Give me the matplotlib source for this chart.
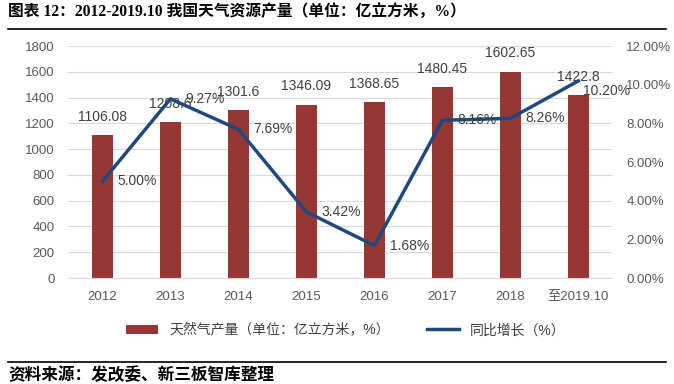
import matplotlib.pyplot as plt
import numpy as np

plt.rcParams['font.family'] = ['Liberation Sans', 'Noto Sans CJK SC']

years = ['2012', '2013', '2014', '2015', '2016', '2017', '2018', '至2019.10']
output = [1106.08, 1208.6, 1301.6, 1346.09, 1368.65, 1480.45, 1602.65, 1422.8]
output_labels = ['1106.08', '1208.6', '1301.6', '1346.09', '1368.65', '1480.45', '1602.65', '1422.8']
growth = [5.00, 9.27, 7.69, 3.42, 1.68, 8.16, 8.26, 10.20]

bar_color = '#953735'
line_color = '#1F497D'
tick_color = '#595959'
label_color = '#404040'

fig = plt.figure(figsize=(6.74, 3.84), dpi=100)
ax = fig.add_axes([0.1016, 0.276, 0.807, 0.604])
x = np.arange(len(years))
bars = ax.bar(x, output, width=0.31, color=bar_color, zorder=2)
ax.set_ylim(0, 1800)
ax.set_yticks(np.arange(0, 1801, 200))
ax.set_xlim(-0.5, len(years) - 0.5)
ax.set_xticks(x)
ax.set_xticklabels(years)
ax.grid(axis='y', color='#D9D9D9', linewidth=0.8, zorder=0)
for s in ['top', 'right', 'left']:
    ax.spines[s].set_visible(False)
ax.spines['bottom'].set_color('#D9D9D9')
ax.tick_params(axis='y', length=0, colors=tick_color, labelsize=9.5, pad=10)
ax.tick_params(axis='x', length=0, colors=tick_color, labelsize=9.5, pad=9)
for xi, v, lab in zip(x, output, output_labels):
    ax.annotate(lab, (xi, v), xytext=(0, 8), textcoords='offset points',
                ha='center', va='bottom', fontsize=10, color=label_color)

ax2 = ax.twinx()
ln, = ax2.plot(x, growth, color=line_color, linewidth=2.5, zorder=3)
ax2.set_ylim(0, 12)
ax2.set_yticks(np.arange(0, 12.1, 2))
ax2.set_yticklabels(['%.2f%%' % t for t in np.arange(0, 12.1, 2)])
for s in ['top', 'right', 'left', 'bottom']:
    ax2.spines[s].set_visible(False)
ax2.tick_params(length=0, colors=tick_color, labelsize=9.5, pad=10)
for i, (xi, g) in enumerate(zip(x, growth)):
    off = (11, 0) if i < len(growth) - 1 else (3, -7)
    ax2.annotate('%.2f%%' % g, (xi, g), xytext=off, textcoords='offset points',
                 ha='left', va='center', fontsize=10, color=label_color, zorder=4)

fig.legend([bars, ln], ['天然气产量（单位：亿立方米，%）', '同比增长（%）'],
           loc='center', bbox_to_anchor=(0.513, 0.14), ncol=2, frameon=False,
           fontsize=10, handlelength=2.3, columnspacing=2.7,
           labelcolor=label_color)

fig.text(0.012, 0.967, '图表 12：2012-2019.10 我国天气资源产量（单位：亿立方米，%）',
         fontsize=11.3, fontweight='bold', va='center',
         family=['Liberation Serif', 'Noto Sans CJK SC'])
fig.add_artist(plt.Line2D([0.012, 0.988], [0.924, 0.924], color='black', linewidth=1.2))
fig.add_artist(plt.Line2D([0.012, 0.988], [0.057, 0.057], color='black', linewidth=1.2))
fig.text(0.012, 0.022, '资料来源：发改委、新三板智库整理', fontsize=12, fontweight='bold',
         va='center', family=['Noto Sans CJK SC'])

fig.savefig('out.png', dpi=100)
